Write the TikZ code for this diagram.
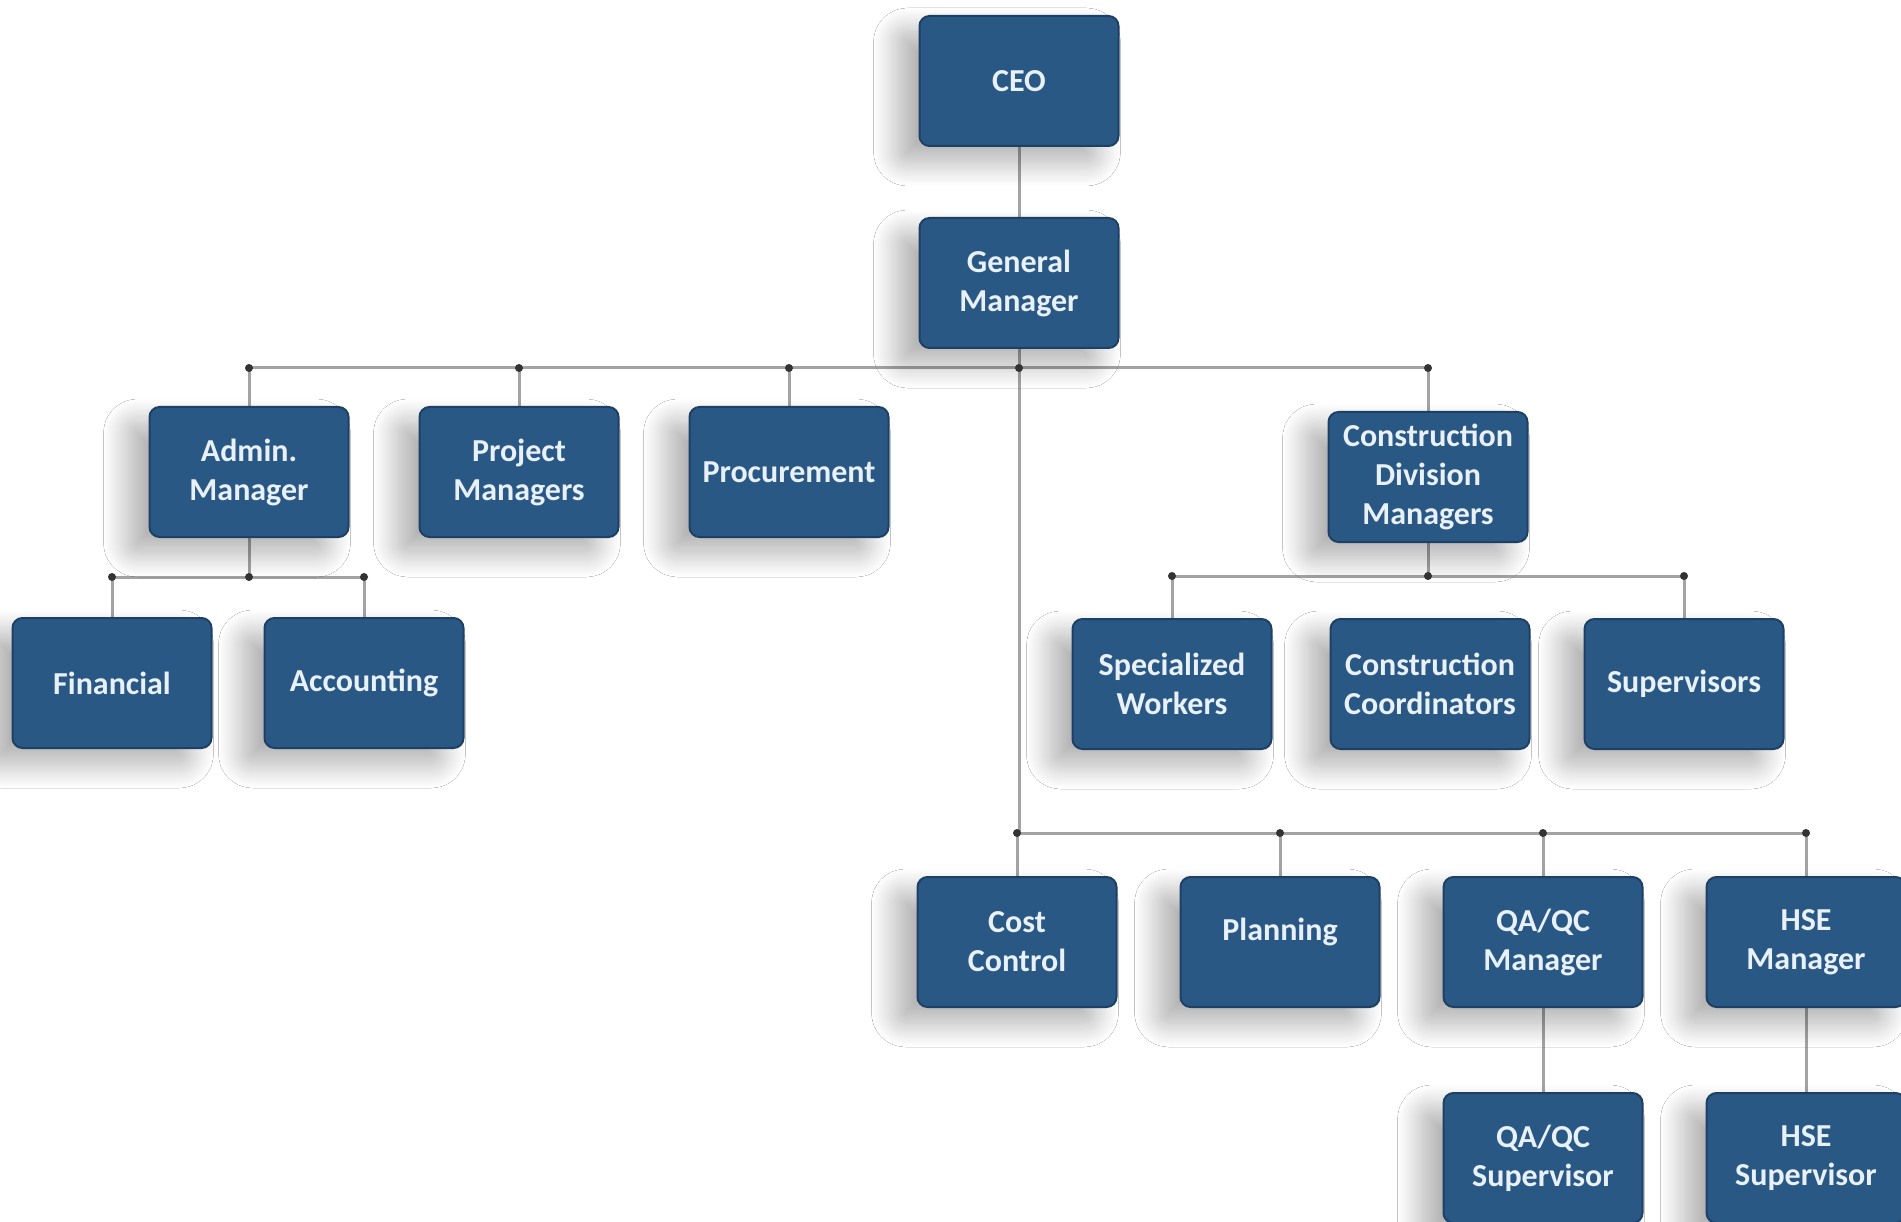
\documentclass[tikz,border=0pt]{standalone}
\usepackage{fontspec}
\setmainfont{Carlito}
\usetikzlibrary{positioning,shadows.blur,backgrounds}
\definecolor{boxblue}{HTML}{2A5885}
\definecolor{boxedge}{HTML}{1E4064}
\definecolor{boxtext}{HTML}{E8F0F8}
\definecolor{linkgrey}{HTML}{A3A3A3}
\definecolor{dotgrey}{HTML}{333333}
\tikzset{
  orgbox/.style={
    rectangle,rounded corners=10pt,draw=boxedge,fill=boxblue,
    line width=2pt,minimum width=199pt,minimum height=130pt,
    inner sep=2pt,align=center,text=boxtext,
    font=\bfseries\fontsize{32}{39}\selectfont,
    blur shadow={shadow xshift=-22pt,shadow yshift=-16pt,
      shadow blur radius=24pt,shadow blur steps=20,shadow opacity=32}
  },
  link/.style={draw=linkgrey,line width=3pt},
  junction/.style={fill=dotgrey}
}

\begin{document}
\begin{tikzpicture}[x=1pt,y=-1pt]
\useasboundingbox (0,0) rectangle (1901,1222);

\node[orgbox] (ceo) at (1019,81) {CEO};
\node[orgbox,below=70pt of ceo] (gm) {General\\Manager};

\node[orgbox] (admin) at (249,472) {Admin.\\Manager};
\node[orgbox,right=69pt of admin] (projmgr) {Project\\Managers};
\node[orgbox,right=69pt of projmgr] (procure) {Procurement};
\node[orgbox] (cdm) at (1428,477) {Construction\\Division\\Managers};

\node[orgbox] (financial) at (112,683) {Financial};
\node[orgbox,right=51pt of financial] (accounting) {Accounting};

\node[orgbox] (specwork) at (1172,684) {Specialized\\Workers};
\node[orgbox,right=57pt of specwork] (coord) {Construction\\Coordinators};
\node[orgbox,right=53pt of coord] (superv) {Supervisors};

\node[orgbox] (cost) at (1017,942) {Cost\\Control};
\node[orgbox,right=62pt of cost,text depth=26pt] (planning) {Planning};
\node[orgbox,right=62pt of planning] (qamgr) {QA/QC\\Manager};
\node[orgbox,right=62pt of qamgr] (hsemgr) {HSE\\Manager};
\node[orgbox,below=84pt of qamgr] (qasup) {QA/QC\\Supervisor};
\node[orgbox,below=84pt of hsemgr] (hsesup) {HSE\\Supervisor};

% bus lines
\coordinate (mainbus) at (0,368);
\coordinate (adminbus) at (0,577);
\coordinate (cdmbus) at (0,576);
\coordinate (lowbus) at (0,833);

\begin{scope}[on background layer]
\fill[white] (0,0) rectangle (1901,1222);
\draw[link] (ceo) -- (gm);
\draw[link] (gm) -- (gm|-lowbus);
\draw[link] (admin|-mainbus) -- (cdm|-mainbus);
\foreach \n in {admin,projmgr,procure,cdm}
  \draw[link] (\n|-mainbus) -- (\n);
\draw[link] (financial|-adminbus) -- (accounting|-adminbus);
\foreach \n in {admin,financial,accounting}
  \draw[link] (\n|-adminbus) -- (\n);
\draw[link] (specwork|-cdmbus) -- (superv|-cdmbus);
\foreach \n in {cdm,specwork,superv}
  \draw[link] (\n|-cdmbus) -- (\n);
\draw[link] (cost|-lowbus) -- (hsemgr|-lowbus);
\foreach \n in {cost,planning,qamgr,hsemgr}
  \draw[link] (\n|-lowbus) -- (\n);
\draw[link] (qamgr) -- (qasup);
\draw[link] (hsemgr) -- (hsesup);
\end{scope}

% junction dots
\foreach \n in {admin,projmgr,procure,gm,cdm}
  \fill[junction] (\n|-mainbus) circle (4pt);
\foreach \n in {admin,financial,accounting}
  \fill[junction] (\n|-adminbus) circle (4pt);
\foreach \n in {cdm,specwork,superv}
  \fill[junction] (\n|-cdmbus) circle (4pt);
\foreach \n in {cost,planning,qamgr,hsemgr}
  \fill[junction] (\n|-lowbus) circle (4pt);
\end{tikzpicture}
\end{document}
